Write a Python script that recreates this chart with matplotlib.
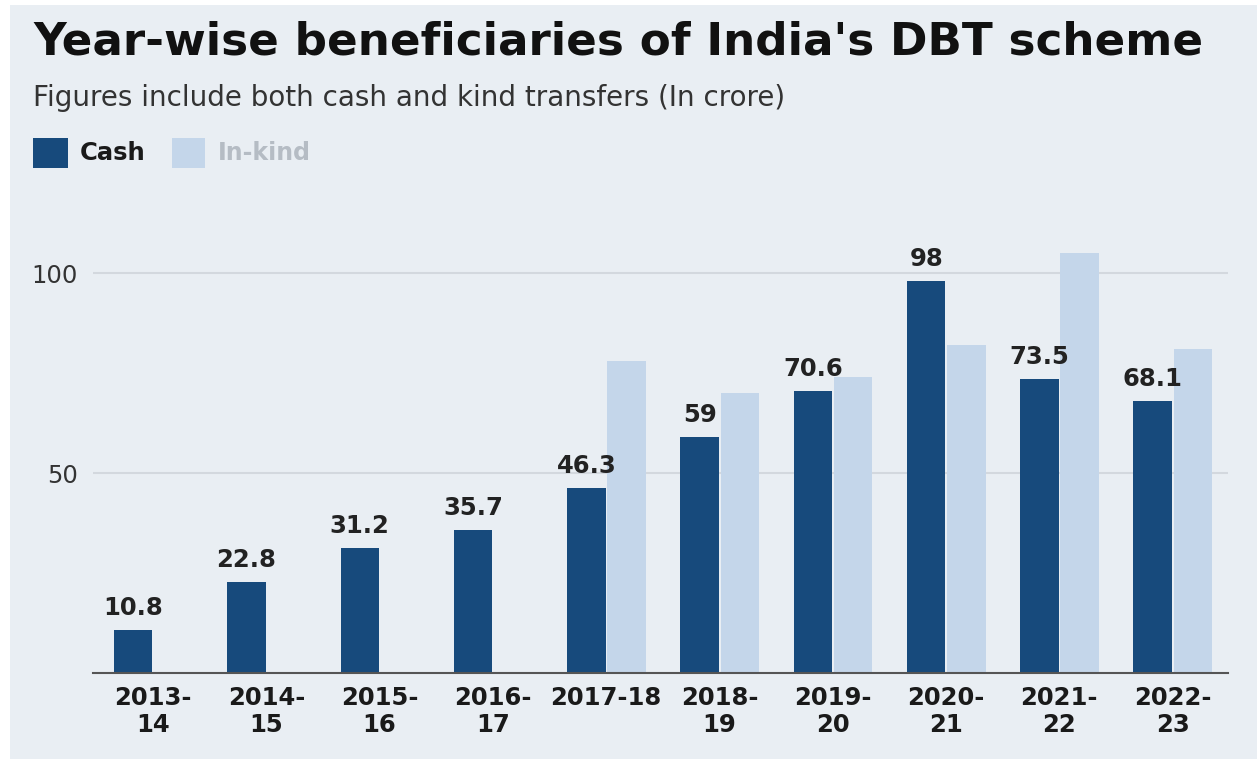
import matplotlib.pyplot as plt
from matplotlib.patches import Rectangle
import numpy as np

years = ["2013-\n14", "2014-\n15", "2015-\n16", "2016-\n17", "2017-18",
         "2018-\n19", "2019-\n20", "2020-\n21", "2021-\n22", "2022-\n23"]
cash = [10.8, 22.8, 31.2, 35.7, 46.3, 59, 70.6, 98, 73.5, 68.1]
in_kind = [0, 0, 0, 0, 78, 70, 74, 82, 105, 81]

CASH_C = "#174a7c"
KIND_C = "#c4d6ea"
BG = "#e9eef3"

fig = plt.figure(figsize=(12.57, 7.59), dpi=100)
fig.patch.set_facecolor("white")
fig.patches.append(Rectangle((10 / 1257, 0), 1, 754 / 759, transform=fig.transFigure,
                             facecolor=BG, edgecolor="none", zorder=-10))

ax = fig.add_axes([0.074, 0.1133, 0.903, 0.5797])
ax.set_facecolor("none")

x = np.arange(len(years))
w = 0.34
ax.bar(x - 0.175, cash, width=w, color=CASH_C, zorder=3)
ax.bar(x + 0.18, in_kind, width=w, color=KIND_C, zorder=3)

for xi, v in zip(x, cash):
    ax.text(xi - 0.175, v + 2.5, f"{v:g}", ha="center", va="bottom",
            fontsize=17.5, fontweight="bold", color="#222222")

ax.set_xlim(-0.53, 9.49)
ax.set_ylim(0, 110)
ax.set_yticks([50, 100])
ax.set_yticklabels(["50", "100"], fontsize=17.5, color="#333333")
ax.set_xticks(x)
ax.set_xticklabels(years, fontsize=17.5, fontweight="bold", color="#1a1a1a",
                   linespacing=1.2, va="top")
ax.tick_params(axis="both", length=0)
ax.tick_params(axis="x", pad=9)
ax.tick_params(axis="y", pad=11)
for s in ["top", "right", "left"]:
    ax.spines[s].set_visible(False)
ax.spines["bottom"].set_color("#555555")
ax.spines["bottom"].set_linewidth(1.5)
ax.spines["bottom"].set_zorder(4)
ax.grid(axis="y", color="#d3d8de", linewidth=1.5, zorder=0)

fig.text(33 / 1257, 1 - 42 / 759, "Year-wise beneficiaries of India's DBT scheme",
         fontsize=32.6, fontweight="bold", color="#111111", va="center", ha="left")
fig.text(33 / 1257, 1 - 98 / 759, "Figures include both cash and kind transfers (In crore)",
         fontsize=20, color="#333333", va="center", ha="left")

fig.patches.append(Rectangle((33 / 1257, 1 - 168 / 759), 35 / 1257, 30 / 759,
                             transform=fig.transFigure, facecolor=CASH_C, edgecolor="none"))
fig.text(80 / 1257, 1 - 153 / 759, "Cash", fontsize=17.5, fontweight="bold",
         color="#1a1a1a", va="center", ha="left")
fig.patches.append(Rectangle((172 / 1257, 1 - 168 / 759), 33 / 1257, 30 / 759,
                             transform=fig.transFigure, facecolor=KIND_C, edgecolor="none"))
fig.text(218 / 1257, 1 - 153 / 759, "In-kind", fontsize=17, fontweight="bold",
         color="#b5bcc4", va="center", ha="left")

fig.savefig("out.png", dpi=100, facecolor="white")
